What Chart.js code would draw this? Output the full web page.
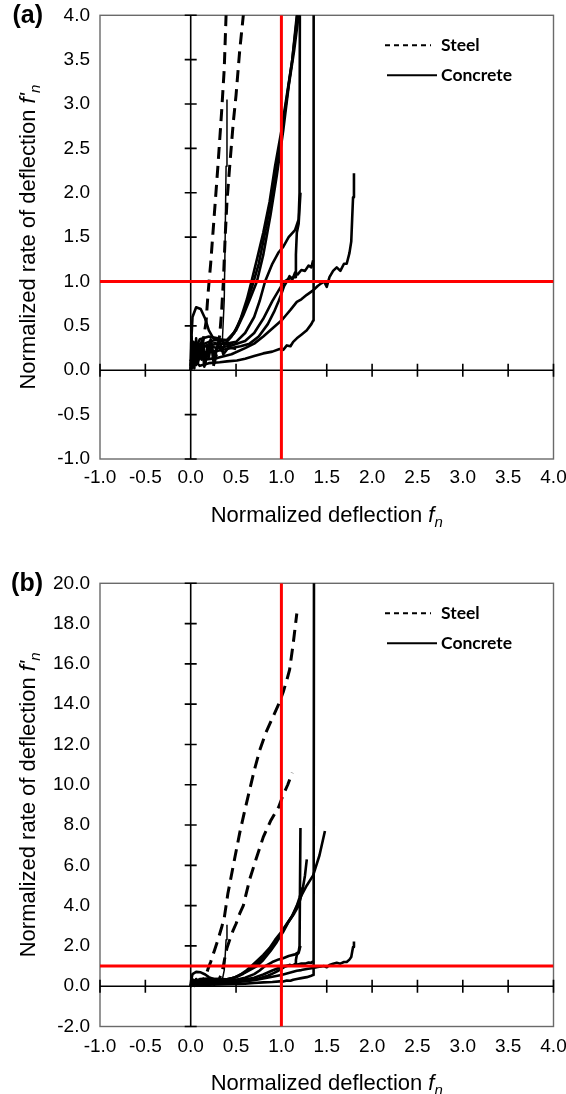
<!DOCTYPE html>
<html>
<head>
<meta charset="utf-8">
<script src="https://cdn.jsdelivr.net/npm/chart.js@4.4.0/dist/chart.umd.min.js"></script>
<style>
  html, body { margin: 0; padding: 0; background: #fff; }
  #wrap { position: relative; width: 566px; height: 1094px; }
  canvas { position: absolute; left: 0; }
</style>
</head>
<body>
<div id="wrap">
  <canvas id="chart-a" width="566" height="545" style="top:0"></canvas>
  <canvas id="chart-b" width="566" height="549" style="top:545px"></canvas>
</div>
<script>
// ─── Data ────────────────────────────────────────────────────────────────────

const xRange = [-1, 4];
const yRangeA = [-1, 4];
const yRangeB = [-2, 20];
const refX = 1; // red limit lines
const refY = 1;

// steel tests (dashed)
const steel1X = [0.05, 0.10, 0.14, 0.17, 0.19, 0.22, 0.26, 0.30, 0.34, 0.37, 0.39, 0.41, 0.47, 0.54, 0.60, 0.65, 0.70, 0.76, 0.83, 0.91, 0.97, 1.02, 1.06, 1.09, 1.13, 1.17];
const steel1Y = [0.05, 0.15, 0.35, 0.55, 0.85, 1.20, 1.75, 2.30, 2.90, 3.40, 4.00, 4.60, 6.00, 7.60, 8.80, 9.75, 10.7, 11.7, 12.6, 13.4, 14.0, 14.6, 15.2, 15.7, 17.0, 18.5];
const steel2X = [0.25, 0.29, 0.32, 0.34, 0.36, 0.38, 0.40, 0.43, 0.47, 0.50, 0.54, 0.58, 0.65, 0.72, 0.80, 0.88, 0.97, 1.02, 1.07, 1.12];
const steel2Y = [0.05, 0.20, 0.40, 0.65, 1.00, 1.50, 1.90, 2.30, 2.80, 3.10, 3.60, 4.00, 5.30, 6.30, 7.40, 8.20, 8.90, 9.50, 10.0, 10.6];

// concrete tests (solid)
const conc1X = [0.00, 0.04, 0.10, 0.20, 0.30, 0.35, 0.37, 0.38, 0.39, 0.40];
const conc1Y = [0.00, 0.20, 0.25, 0.30, 0.32, 0.35, 0.80, 1.50, 2.30, 3.05];
const conc2X = [0.00, 0.005, 0.02, 0.06, 0.11, 0.16, 0.20, 0.25, 0.32, 0.40, 0.48, 0.55, 0.62, 0.67, 0.73, 0.80, 0.87, 0.93, 1.00, 1.06, 1.12, 1.17, 1.22, 1.28, 1.35, 1.42, 1.48];
const conc2Y = [0.00, 0.30, 0.60, 0.71, 0.69, 0.58, 0.45, 0.36, 0.33, 0.34, 0.42, 0.58, 0.80, 1.00, 1.25, 1.55, 1.90, 2.30, 2.70, 3.10, 3.50, 3.95, 4.50, 5.00, 5.50, 6.50, 7.70];
const conc3X = [0.00, 0.02, 0.05, 0.10, 0.20, 0.30, 0.40, 0.50, 0.58, 0.66, 0.73, 0.80, 0.88, 0.95, 1.02, 1.08, 1.14, 1.19, 1.23, 1.26, 1.28];
const conc3Y = [0.05, 0.25, 0.30, 0.28, 0.32, 0.35, 0.34, 0.45, 0.62, 0.82, 1.00, 1.30, 1.75, 2.20, 2.70, 3.20, 3.60, 4.00, 4.70, 5.50, 6.30];
const conc4X = [0.00, 0.03, 0.10, 0.20, 0.30, 0.40, 0.50, 0.60, 0.70, 0.76, 0.82, 0.90, 0.97, 1.02, 1.08, 1.15, 1.19, 1.20, 1.21];
const conc4Y = [0.00, 0.30, 0.25, 0.28, 0.30, 0.30, 0.32, 0.42, 0.60, 0.78, 1.00, 1.20, 1.33, 1.39, 1.50, 1.58, 1.70, 2.00, 7.85];
const conc5X = [0.00, 0.05, 0.15, 0.30, 0.45, 0.60, 0.70, 0.80, 0.90, 0.97, 1.03, 1.10, 1.15, 1.16, 1.17, 1.19, 1.21];
const conc5Y = [0.10, 0.30, 0.28, 0.25, 0.28, 0.33, 0.42, 0.58, 0.78, 0.90, 1.00, 1.04, 1.05, 1.30, 1.55, 1.65, 2.00];
const conc6X = [0.00, 0.05, 0.15, 0.30, 0.45, 0.55, 0.65, 0.75, 0.85, 0.92, 0.97, 1.00, 1.03, 1.06, 1.09, 1.12, 1.15, 1.18, 1.22, 1.26, 1.30, 1.33, 1.35];
const conc6Y = [0.02, 0.25, 0.20, 0.22, 0.25, 0.27, 0.30, 0.38, 0.52, 0.66, 0.78, 0.86, 0.95, 1.00, 1.06, 1.02, 1.10, 1.08, 1.13, 1.12, 1.18, 1.16, 1.24];
const conc7X = [0.00, 0.05, 0.10, 0.20, 0.32, 0.40, 0.51, 0.60, 0.70, 0.80, 0.90, 0.98, 1.02, 1.06, 1.10, 1.13, 1.17, 1.22, 1.28, 1.33, 1.35, 1.355, 1.36];
const conc7Y = [0.00, 0.10, 0.05, 0.08, 0.09, 0.10, 0.11, 0.13, 0.16, 0.19, 0.21, 0.24, 0.23, 0.28, 0.27, 0.32, 0.36, 0.40, 0.45, 0.52, 0.56, 0.60, 25];
const conc8X = [0.00, 0.05, 0.15, 0.30, 0.45, 0.60, 0.70, 0.80, 0.90, 1.00, 1.05, 1.10, 1.17, 1.22, 1.28, 1.35, 1.40, 1.44, 1.47, 1.50, 1.53, 1.57, 1.61, 1.65, 1.69, 1.72, 1.75, 1.77, 1.78, 1.79, 1.80];
const conc8Y = [0.00, 0.15, 0.12, 0.14, 0.18, 0.25, 0.30, 0.38, 0.47, 0.56, 0.62, 0.68, 0.77, 0.80, 0.85, 0.90, 0.95, 0.98, 1.00, 0.94, 1.05, 1.12, 1.16, 1.12, 1.20, 1.20, 1.32, 1.45, 1.70, 1.95, 2.22];
const conc9X = [0.00, 0.03, 0.10, 0.20, 0.30, 0.38, 0.45, 0.52, 0.60, 0.68, 0.75, 0.83, 0.90, 0.97, 1.05, 1.12, 1.17, 1.20, 1.23];
const conc9Y = [0.10, 0.20, 0.35, 0.38, 0.36, 0.30, 0.38, 0.50, 0.70, 0.95, 1.20, 1.60, 2.00, 2.45, 3.00, 3.50, 4.00, 4.40, 4.90];
// noisy start-up strands near the origin
const conc10X = [0.00, 0.01, 0.02, 0.03, 0.05, 0.06, 0.08, 0.10, 0.12, 0.14, 0.16, 0.18, 0.20, 0.23, 0.26, 0.30, 0.34, 0.38, 0.45];
const conc10Y = [0.00, 0.38, 0.05, 0.32, 0.10, 0.36, 0.08, 0.30, 0.12, 0.28, 0.06, 0.25, 0.15, 0.30, 0.12, 0.28, 0.22, 0.30, 0.28];
const conc11X = [0.00, 0.02, 0.04, 0.06, 0.09, 0.12, 0.15, 0.19, 0.22, 0.25, 0.28, 0.32, 0.36, 0.42, 0.50];
const conc11Y = [0.05, 0.22, 0.02, 0.28, 0.15, 0.33, 0.04, 0.20, 0.35, 0.10, 0.24, 0.32, 0.18, 0.26, 0.24];

const steelSeries = [[steel1X, steel1Y], [steel2X, steel2Y]];
const concreteSeries = [
  [conc2X, conc2Y], [conc3X, conc3Y], [conc4X, conc4Y], [conc5X, conc5Y],
  [conc6X, conc6Y], [conc7X, conc7Y], [conc8X, conc8Y], [conc9X, conc9Y],
  [conc10X, conc10Y], [conc11X, conc11Y],
];

const TICK_FONT = { family: "'Liberation Sans', Arial, sans-serif", size: 19 };
const SANS = "'Liberation Sans', Arial, sans-serif";

function toPoints(xs, ys) {
  return xs.map((x, i) => ({ x, y: ys[i] }));
}

// ─── Plugins ─────────────────────────────────────────────────────────────────

// frame + axes crossing at zero with cross ticks
const zeroAxes = {
  id: "zeroAxes",
  beforeDatasetsDraw(chart) {
    const { ctx, chartArea: a, scales: { x, y } } = chart;
    ctx.save();
    ctx.strokeStyle = "#6a6a6a";
    ctx.lineWidth = 1.4;
    ctx.strokeRect(a.left, a.top, a.right - a.left, a.bottom - a.top);
    const x0 = x.getPixelForValue(0);
    const y0 = y.getPixelForValue(0);
    ctx.strokeStyle = "#000";
    ctx.lineWidth = 1.6;
    ctx.beginPath();
    ctx.moveTo(a.left, y0); ctx.lineTo(a.right, y0);
    ctx.moveTo(x0, a.top); ctx.lineTo(x0, a.bottom);
    x.ticks.forEach((t) => {
      const px = x.getPixelForValue(t.value);
      ctx.moveTo(px, y0 - 6.5); ctx.lineTo(px, y0 + 6.5);
    });
    y.ticks.forEach((t) => {
      const py = y.getPixelForValue(t.value);
      ctx.moveTo(x0 - 6, py); ctx.lineTo(x0 + 6, py);
    });
    ctx.stroke();
    ctx.restore();
  },
};

function drawRich(ctx, parts, cx, baseY) {
  let total = 0;
  parts.forEach((p) => { ctx.font = p.font; p.w = ctx.measureText(p.text).width; total += p.w; });
  let x = cx - total / 2;
  parts.forEach((p) => {
    ctx.font = p.font;
    ctx.fillText(p.text, x, baseY + (p.dy || 0));
    x += p.w;
  });
}

// titles, panel letter and legend
const annotations = {
  id: "annotations",
  afterDraw(chart, args, opts) {
    const { ctx, chartArea: a } = chart;
    ctx.save();
    ctx.fillStyle = "#000";
    ctx.textAlign = "left";
    ctx.textBaseline = "alphabetic";

    // x title
    drawRich(ctx, [
      { text: "Normalized deflection ", font: `22px ${SANS}` },
      { text: "f", font: `italic 22px ${SANS}` },
      { text: "n", font: `italic 15px ${SANS}`, dy: 5 },
    ], (a.left + a.right) / 2, a.bottom + 63);

    // y title (rotated)
    ctx.save();
    ctx.translate(35, (a.top + a.bottom) / 2);
    ctx.rotate(-Math.PI / 2);
    drawRich(ctx, [
      { text: "Normalized rate of deflection ", font: `22px ${SANS}` },
      { text: "f'", font: `italic 22px ${SANS}` },
      { text: "n", font: `italic 15px ${SANS}`, dy: 5 },
    ], 0, 0);
    ctx.restore();

    // panel letter
    ctx.font = `bold 25px ${SANS}`;
    ctx.textAlign = "right";
    ctx.textBaseline = "middle";
    ctx.fillText(opts.panel, 43, a.top + 1);

    // legend
    const ySteel = a.top + 30;
    const yConc = a.top + 60;
    ctx.strokeStyle = "#000";
    ctx.lineWidth = 2;
    ctx.setLineDash([5, 4]);
    ctx.beginPath(); ctx.moveTo(385, ySteel); ctx.lineTo(431, ySteel); ctx.stroke();
    ctx.setLineDash([]);
    ctx.beginPath(); ctx.moveTo(387, yConc); ctx.lineTo(437, yConc); ctx.stroke();
    ctx.font = `bold 17.5px Lato, 'Open Sans', sans-serif`;
    ctx.textAlign = "left";
    ctx.fillText("Steel", 441, ySteel);
    ctx.fillText("Concrete", 441, yConc);
    ctx.restore();
  },
};

// ─── Chart builder ───────────────────────────────────────────────────────────

function makeChart(id, yRange, yStep, layout) {
  const canvas = document.getElementById(id);
  const datasets = [
    {
      data: [{ x: refX, y: yRange[0] }, { x: refX, y: yRange[1] }],
      borderColor: "#ff0000", borderWidth: 3,
    },
    {
      data: [{ x: xRange[0], y: refY }, { x: xRange[1], y: refY }],
      borderColor: "#ff0000", borderWidth: 3,
    },
    ...steelSeries.map(([xs, ys]) => ({
      data: toPoints(xs, ys),
      borderColor: "#000", borderWidth: 3, borderDash: [12, 7],
    })),
    ...concreteSeries.map(([xs, ys]) => ({
      data: toPoints(xs, ys),
      borderColor: "#000", borderWidth: 2.6,
    })),
    {
      data: toPoints(conc1X, conc1Y),
      borderColor: "#000", borderWidth: 1.5,
    },
  ].map((d) => ({ showLine: true, pointRadius: 0, clip: 0, borderJoinStyle: "round", ...d }));

  return new Chart(canvas, {
    type: "scatter",
    data: { datasets },
    options: {
      responsive: false,
      animation: false,
      devicePixelRatio: 1,
      layout: { padding: { left: 0, right: 12.5, top: layout.top, bottom: 0 } },
      plugins: {
        legend: { display: false },
        tooltip: { enabled: false },
        annotations: { panel: layout.panel },
      },
      elements: { line: { tension: 0 } },
      scales: {
        x: {
          type: "linear",
          min: xRange[0], max: xRange[1],
          ticks: {
            stepSize: 0.5, autoSkip: false, maxRotation: 0, padding: layout.xPad,
            color: "#000", font: TICK_FONT,
            callback: (v) => v.toFixed(1),
          },
          grid: { display: false, drawTicks: false },
          border: { display: false },
          afterFit: (s) => { s.height = layout.xHeight; s.paddingLeft = 0; s.paddingRight = 0; },
        },
        y: {
          type: "linear",
          min: yRange[0], max: yRange[1],
          ticks: {
            stepSize: yStep, autoSkip: false, padding: 10,
            color: "#000", font: TICK_FONT,
            callback: (v) => v.toFixed(1),
          },
          grid: { display: false, drawTicks: false },
          border: { display: false },
          afterFit: (s) => { s.width = 100; s.paddingTop = 0; s.paddingBottom = 0; },
        },
      },
    },
    plugins: [zeroAxes, annotations],
  });
}

makeChart("chart-a", yRangeA, 0.5, { panel: "(a)", top: 15.3, xHeight: 86, xPad: 7 });
makeChart("chart-b", yRangeB, 2, { panel: "(b)", top: 38.3, xHeight: 67.5, xPad: 9 });
</script>
</body>
</html>
